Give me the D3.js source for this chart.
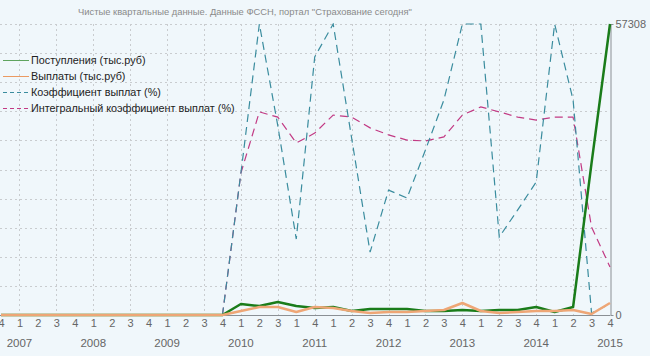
<!DOCTYPE html>
<html><head><meta charset="utf-8">
<script src="https://cdn.jsdelivr.net/npm/d3@7"></script>
<style>
body{margin:0;background:#f0f7fb;}
svg{display:block;font-family:"Liberation Sans",Arial,sans-serif;}
</style></head><body>
<svg id="c" width="650" height="356"></svg>
<script>
// quarter tick labels as shown on the chart
const quarters = ["4","1","2","3","4","1","2","3","4","1","2","3","4","1","2","3","1","4","1","2","3","4","1","2","3","4","1","2","3","4","1","2","3","4"];
const years = ["2007","2008","2009","2010","2011","2012","2013","2014","2015"];
const yearIndex = [1,5,9,13,17,21,25,29,33];
const seriesNames = ["Поступления (тыс.руб)","Выплаты (тыс.руб)","Коэффициент выплат (%)","Интегральный коэффициент выплат (%)"];
const yMax = 57308;
// thousands of rubles
const receipts = [0,0,0,0,0,0,0,0,0,0,0,0,0,2166,1772,2560,1772,1378,1575,788,1180,1180,1180,788,788,985,788,985,985,1575,590,1575,29900,57308];
const payouts  = [0,0,0,0,0,0,0,0,0,0,0,0,0,788,1575,1575,590,1575,1378,788,394,590,590,788,985,2363,788,394,590,788,788,985,197,2363];
// percent
const ratio    = [0,0,0,0,0,0,0,0,0,0,0,0,0,48.8,100,65.0,26.1,88.7,100,60.8,21.6,42.9,40.2,56.7,73.9,100,100,26.8,36.1,45.7,100,73.9,0.7,3.8];
const integral = [0,0,0,0,0,0,0,0,0,0,0,0,0,48.8,69.8,68.0,59.1,62.5,68.7,68.0,64.3,61.9,60.1,59.8,61.2,68.7,71.5,69.8,68.0,67.0,68.0,68.0,30.2,16.5];

const svg = d3.select("#c");
const pTop = 24, pBottom = 315, pLeft = 1, pRight = 610;
const x = d3.scalePoint().domain(d3.range(quarters.length)).range([pLeft, pRight]);
const y = d3.scaleLinear().domain([0, yMax]).range([pBottom, pTop]);
const yp = d3.scaleLinear().domain([0, 100]).range([pBottom, pTop]);

// title
svg.append("text").attr("x", 78).attr("y", 15).attr("font-size", 9.4).attr("fill", "#8a8a8a")
  .text("Чистые квартальные данные. Данные ФССН, портал \"Страхование сегодня\"");

// grid
const grid = svg.append("g").attr("stroke", "#c9cccf").attr("stroke-dasharray", "2,3").attr("stroke-width", 1);
d3.range(1, 11).forEach(k => {
  const yy = Math.round(y(yMax * k / 10)) + 0.5;
  grid.append("line").attr("x1", 0).attr("x2", pRight).attr("y1", yy).attr("y2", yy);
});
d3.range(1, quarters.length - 1, 2).forEach(i => {
  const xx = Math.round(x(i)) + 0.5;
  grid.append("line").attr("x1", xx).attr("x2", xx).attr("y1", pTop).attr("y2", pBottom);
});

// bottom axis line
svg.append("line").attr("x1", 0).attr("x2", pRight).attr("y1", pBottom + 0.5).attr("y2", pBottom + 0.5).attr("stroke", "#8a8f94");

// right axis
const ra = svg.append("g").attr("transform", `translate(${pRight + 0.5},0)`)
  .call(d3.axisRight(y).tickValues([0, yMax]).tickSize(3).tickSizeOuter(0).tickPadding(2).tickFormat(d3.format("d")));
ra.select(".domain").attr("stroke", "#8a8f94");
ra.selectAll(".tick line").attr("stroke", "#8a8f94");
ra.selectAll("text").attr("font-size", 11).attr("fill", "#666").attr("font-family", "Liberation Sans, Arial, sans-serif");

// quarter labels
const qa = svg.append("g").attr("transform", `translate(0,${pBottom})`)
  .call(d3.axisBottom(x).tickSize(0).tickPadding(4).tickFormat(i => quarters[i]));
qa.select(".domain").remove();
qa.selectAll("text").attr("font-size", 11).attr("fill", "#666").attr("font-family", "Liberation Sans, Arial, sans-serif");

// year labels
svg.append("g").selectAll("text").data(years).join("text")
  .attr("x", (d, k) => x(yearIndex[k])).attr("y", 347).attr("text-anchor", "middle")
  .attr("font-size", 11.5).attr("fill", "#666").text(d => d);

// clip
svg.append("clipPath").attr("id", "pc").append("rect").attr("x", 0).attr("y", pTop - 1).attr("width", pRight + 2).attr("height", pBottom - pTop + 3);
const plot = svg.append("g").attr("clip-path", "url(#pc)");

const line = d3.line().x((d, i) => x(i)).y(d => y(d));
const linep = d3.line().x((d, i) => x(i)).y(d => yp(d));

plot.append("path").attr("d", linep(integral)).attr("fill", "none").attr("stroke", "#c23a84").attr("stroke-width", 1.2).attr("stroke-dasharray", "8,5");
plot.append("path").attr("d", linep(ratio)).attr("fill", "none").attr("stroke", "#3a8c9e").attr("stroke-width", 1.2).attr("stroke-dasharray", "8,5");
plot.append("path").attr("d", line(receipts)).attr("fill", "none").attr("stroke", "#1a7c1a").attr("stroke-width", 2.5).attr("stroke-linejoin", "round");
plot.append("path").attr("d", line(payouts)).attr("fill", "none").attr("stroke", "#eea676").attr("stroke-width", 2.5).attr("stroke-linejoin", "round");

// legend
const legColors = ["#5fa45f", "#eb9a62", "#3a8c9e", "#c23a84"];
const legDash = [null, null, "4,3", "4,3"];
const leg = svg.append("g");
seriesNames.forEach((n, k) => {
  const yy = 60 + k * 16;
  leg.append("line").attr("x1", 3).attr("x2", 29).attr("y1", yy + 0.5).attr("y2", yy + 0.5)
    .attr("stroke", legColors[k]).attr("stroke-width", 1).attr("stroke-dasharray", legDash[k]);
  leg.append("text").attr("x", 31).attr("y", yy + 4).attr("font-size", 10.8).attr("fill", "#222").text(n);
});
</script>
</body></html>
